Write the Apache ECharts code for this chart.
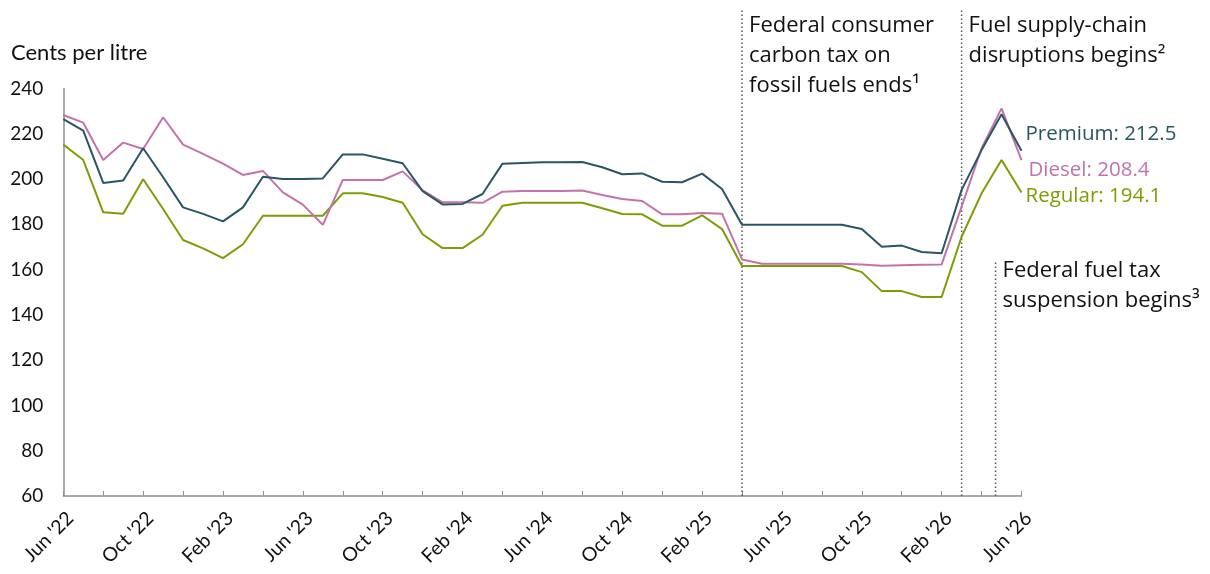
<!DOCTYPE html>
<html>
<head>
<meta charset="utf-8">
<script src="https://cdn.jsdelivr.net/npm/echarts@6/dist/echarts.min.js"></script>
<style>
html,body{margin:0;padding:0;background:#fff;}
#chart{width:1210px;height:574px;}
</style>
</head>
<body>
<div id="chart"></div>
<script>
// Monthly categories Jun '22 .. Jun '26
const monthLabels = ["Jun '22","Jul '22","Aug '22","Sep '22","Oct '22","Nov '22","Dec '22","Jan '23","Feb '23","Mar '23","Apr '23","May '23","Jun '23","Jul '23","Aug '23","Sep '23","Oct '23","Nov '23","Dec '23","Jan '24","Feb '24","Mar '24","Apr '24","May '24","Jun '24","Jul '24","Aug '24","Sep '24","Oct '24","Nov '24","Dec '24","Jan '25","Feb '25","Mar '25","Apr '25","May '25","Jun '25","Jul '25","Aug '25","Sep '25","Oct '25","Nov '25","Dec '25","Jan '26","Feb '26","Mar '26","Apr '26","May '26","Jun '26"];

const premium = [226.5,221.4,198.3,199.4,213.6,200.8,187.5,184.6,181.3,187.5,201.0,200.0,200.0,200.3,210.9,210.9,209.0,
  207.0,194.7,188.8,189.0,193.4,206.8,207.1,207.4,207.4,207.5,205.2,202.1,202.5,198.8,198.6,202.4,195.6,
  179.8,179.8,179.8,179.8,179.8,179.8,177.9,170.1,170.6,167.8,167.2,195.2,212.8,228.6,212.5];
const diesel = [228.3,224.9,208.4,216.1,213.3,227.3,215.2,211.1,206.8,201.8,203.6,194.1,188.7,179.8,199.6,199.6,199.6,
  203.4,195.0,189.7,189.7,189.5,194.4,194.7,194.7,194.7,194.9,193.0,191.2,190.3,184.4,184.4,185.0,184.7,
  164.5,162.6,162.6,162.6,162.6,162.6,162.3,161.7,161.9,162.1,162.3,187.8,213.6,231.2,208.4];
const regular = [215.3,208.4,185.3,184.7,199.9,186.8,173.1,169.4,165.1,171.2,183.8,183.8,183.8,183.8,193.7,193.7,192.1,
  189.5,175.6,169.5,169.5,175.4,188.2,189.5,189.5,189.5,189.5,187.1,184.6,184.4,179.4,179.4,184.0,177.9,
  161.6,161.6,161.6,161.6,161.6,161.6,158.9,150.5,150.5,147.9,147.9,174.5,193.7,208.4,194.1];

const seriesNames = ["Premium","Diesel","Regular"];
const seriesColors = ["#2b5564","#c473aa","#7c9d05"];

// Event lines (month index from Jun '22) and annotation texts
const eventX = [34, 45, 46.7];
const eventTop = [275.5, 275.5, 163.4];
const eventText = [
  "Federal consumer\ncarbon tax on\nfossil fuels ends\u00b9",
  "Fuel supply-chain\ndisruptions begins\u00b2",
  "Federal fuel tax\nsuspension begins\u00b3"
];
const eventTextTopValue = [274.5, 274.5, 166.0];

const yTicks = {min:60, max:240, interval:20};
const FONT = "Lato";
const FONT2 = "Open Sans";

const toPairs = arr => arr.map((v,i)=>[i,v]);
const endOffsets = [[0,-17],[3,10],[0,4]];

const chart = echarts.init(document.getElementById('chart'), null, {renderer:'canvas'});

const series = [premium, diesel, regular].map((arr, k) => ({
  name: seriesNames[k],
  type: 'line',
  data: toPairs(arr),
  showSymbol: false,
  symbol: 'none',
  clip: false,
  lineStyle: {color: seriesColors[k], width: 2},
  itemStyle: {color: seriesColors[k]},
  z: 5 - k,
  endLabel: {
    show: true,
    formatter: p => p.seriesName + ': ' + p.value[1].toFixed(1),
    color: seriesColors[k],
    fontSize: 20.5,
    fontFamily: FONT2,
    offset: endOffsets[k],
    distance: 4
  },
  emphasis: {disabled: true}
}));

chart.setOption({
  animation: false,
  backgroundColor: '#fff',
  grid: {left: 63.3, right: 188.5, top: 88.5, bottom: 78, containLabel: false},
  xAxis: {
    type: 'value', min: 0, max: 48, interval: 2,
    axisLine: {show: true, lineStyle: {color: '#8f8f8f', width: 1.5}},
    axisTick: {show: true, inside: true, length: 5, lineStyle: {color: '#8f8f8f', width: 1}},
    splitLine: {show: false},
    axisLabel: {
      rotate: 45, fontSize: 19.5, color: '#111', fontFamily: FONT, margin: 12,
      verticalAlign: 'top',
      formatter: v => (v % 4 === 0 ? monthLabels[v] : '')
    }
  },
  yAxis: {
    type: 'value', min: yTicks.min, max: yTicks.max, interval: yTicks.interval,
    axisLine: {show: true, lineStyle: {color: '#8f8f8f', width: 1.5}},
    axisTick: {show: false},
    splitLine: {show: false},
    axisLabel: {fontSize: 19, color: '#111', fontFamily: FONT, margin: 20}
  },
  series: series
});

// Annotations and event lines positioned via the chart's own scales
const graphics = [{
  type: 'text', left: 11, top: 42,
  style: {text: 'Cents per litre', fontSize: 22, fontFamily: FONT, fill: '#111'}
}];
eventX.forEach((x,i) => {
  const pb = chart.convertToPixel({gridIndex:0}, [x, yTicks.min]);
  const pt = chart.convertToPixel({gridIndex:0}, [x, eventTop[i]]);
  graphics.push({
    type: 'line', silent: true, z: 1,
    shape: {x1: pb[0], y1: pb[1], x2: pt[0], y2: pt[1]},
    style: {stroke: '#555', lineWidth: 1.5, lineDash: [1.5, 2.5]}
  });
  const p = chart.convertToPixel({gridIndex:0}, [x, eventTextTopValue[i]]);
  graphics.push({
    type: 'text', x: p[0] + 7, y: p[1],
    style: {text: eventText[i], fontSize: 22, lineHeight: 30, fontFamily: FONT2, fill: '#111'}
  });
});
chart.setOption({graphic: graphics});
</script>
</body>
</html>
